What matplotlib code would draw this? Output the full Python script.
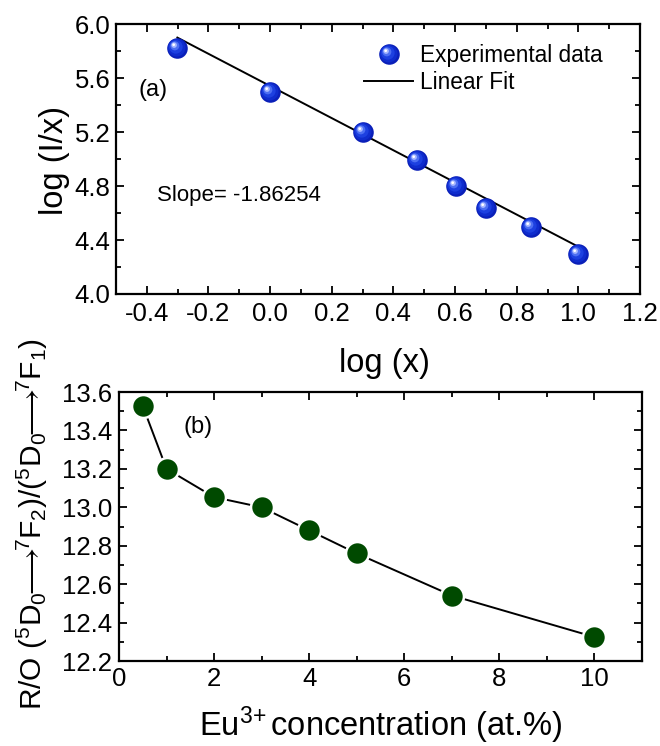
import numpy as np
import matplotlib
matplotlib.use("Agg")
import matplotlib.pyplot as plt
from matplotlib.path import Path
from matplotlib.legend_handler import HandlerTuple

plt.rcParams['font.family'] = ['Liberation Sans', 'DejaVu Sans']
plt.rcParams['mathtext.fontset'] = 'custom'
plt.rcParams['mathtext.rm'] = 'Liberation Sans'
plt.rcParams['mathtext.it'] = 'Liberation Sans:italic'
plt.rcParams['mathtext.bf'] = 'Liberation Sans:bold'
plt.rcParams['mathtext.fallback'] = 'stixsans'

# ---- data ----
log_x = [-0.301, 0.0, 0.301, 0.477, 0.602, 0.699, 0.845, 1.0]
log_I_over_x = [5.82, 5.50, 5.20, 4.99, 4.80, 4.64, 4.50, 4.30]
fit_slope = -1.191
fit_intercept = 5.541
slope_label = "Slope= -1.86254"

eu_conc = [0.5, 1, 2, 3, 4, 5, 7, 10]
ratio_RO = [13.527, 13.20, 13.053, 13.00, 12.88, 12.76, 12.541, 12.325]

TICK_FS = 18.5
LABEL_FS = 23.5


def circle_marker(cx, cy, r):
    """Circle path in a unit frame; a stray MOVETO pins the scale to radius 1."""
    c = Path.circle((cx, cy), r)
    verts = np.vstack([c.vertices, [[1.0, 0.0]]])
    codes = np.concatenate([c.codes, [Path.MOVETO]])
    return Path(verts, codes)


# shaded sphere built from stacked offset circles
sphere_layers = [
    ((0.0, 0.0), 1.0, '#0a1fb8'),
    ((-0.08, 0.08), 0.86, '#0f2ccd'),
    ((-0.16, 0.16), 0.66, '#1d40e0'),
    ((-0.26, 0.26), 0.44, '#4d6ff2'),
    ((-0.33, 0.33), 0.27, '#a8b8ff'),
    ((-0.37, 0.37), 0.13, '#ffffff'),
]


def style_axes(ax):
    for s in ax.spines.values():
        s.set_linewidth(1.6)
    ax.tick_params(which='both', direction='in', top=True, right=True,
                   width=1.3, labelsize=TICK_FS)
    ax.tick_params(which='major', length=6)
    ax.tick_params(which='minor', length=3.5)


fig = plt.figure(figsize=(6.6, 7.46), dpi=100)

# ---- panel (a) ----
ax1 = fig.add_axes([0.1758, 0.6059, 0.7939, 0.3619])
xf = np.array([log_x[0], log_x[-1]])
fit_line, = ax1.plot(xf, fit_intercept + fit_slope * xf, color='black', lw=1.4, zorder=2)
sphere_handles = []
for (cx, cy), r, col in sphere_layers:
    h, = ax1.plot(log_x, log_I_over_x, ls='none',
                  marker=circle_marker(cx, cy, r), markersize=14.8,
                  markerfacecolor=col, markeredgewidth=0, zorder=3)
    sphere_handles.append(h)

ax1.set_xlim(-0.5, 1.2)
ax1.set_ylim(4.0, 6.0)
ax1.set_xticks(np.arange(-0.4, 1.21, 0.2))
ax1.set_xticklabels(['-0.4', '-0.2', '0.0', '0.2', '0.4', '0.6', '0.8', '1.0', '1.2'])
ax1.set_xticks(np.arange(-0.5, 1.21, 0.1), minor=True)
ax1.set_yticks(np.arange(4.0, 6.01, 0.4))
ax1.set_yticklabels(['4.0', '4.4', '4.8', '5.2', '5.6', '6.0'])
ax1.set_yticks(np.arange(4.0, 6.01, 0.2), minor=True)
style_axes(ax1)
ax1.tick_params(axis='x', pad=6)
ax1.tick_params(axis='y', pad=4)

ax1.set_xlabel('log (x)', fontsize=LABEL_FS)
ax1.xaxis.label.set_va('center')
ax1.xaxis.set_label_coords(0.513, -0.259)
ax1.set_ylabel('log (I/x)', fontsize=LABEL_FS)
ax1.yaxis.label.set_va('center')
ax1.yaxis.set_label_coords(-0.118, 0.496)

ax1.text(-0.428, 5.51, '(a)', fontsize=17, ha='left', va='center')
ax1.text(-0.367, 4.733, slope_label, fontsize=16, ha='left', va='center')

ax1.legend([tuple(sphere_handles), fit_line], ['Experimental data', 'Linear Fit'],
           handler_map={tuple: HandlerTuple(ndivide=1, pad=0)},
           loc='upper right', bbox_to_anchor=(0.968, 1.0), frameon=False,
           fontsize=16.3, handlelength=2.2, handletextpad=0.3, labelspacing=0.15,
           borderaxespad=0.5)

# ---- panel (b) ----
ax2 = fig.add_axes([0.1803, 0.1139, 0.7924, 0.3606])
ax2.plot(eu_conc, ratio_RO, color='black', lw=1.4, marker='o', markersize=16.5,
         markerfacecolor='#004a00', markeredgecolor='white', markeredgewidth=1.8,
         zorder=3)
ax2.set_xlim(0, 11)
ax2.set_ylim(12.2, 13.6)
ax2.set_xticks([0, 2, 4, 6, 8, 10])
ax2.set_xticks(np.arange(0, 11.01, 1), minor=True)
ax2.set_yticks(np.arange(12.2, 13.61, 0.2))
ax2.set_yticklabels(['12.2', '12.4', '12.6', '12.8', '13.0', '13.2', '13.4', '13.6'])
ax2.set_yticks(np.arange(12.2, 13.61, 0.1), minor=True)
style_axes(ax2)
ax2.tick_params(axis='x', pad=4)
ax2.tick_params(axis='y', pad=5)

ax2.set_xlabel(r'Eu$^{3\!+}$concentration (at.%)', fontsize=LABEL_FS)
ax2.xaxis.label.set_va('baseline')
ax2.xaxis.set_label_coords(0.5, -0.28)
arrow = r'$\!\!\longrightarrow\!\!$'
ax2.set_ylabel('R/O ($^{5}$D$_{0}$' + arrow + '$^{7}$F$_{2}$)/($^{5}$D$_{0}$' + arrow
               + '$^{7}$F$_{1}$)', fontsize=21.5)
ax2.yaxis.label.set_va('center')
ax2.yaxis.set_label_coords(-0.166, 0.508)

ax2.text(1.35, 13.42, '(b)', fontsize=17, ha='left', va='center')

fig.savefig('out.png', dpi=100)
